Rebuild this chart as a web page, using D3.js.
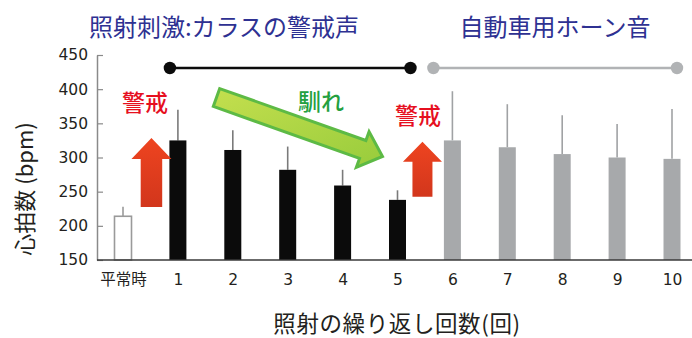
<!DOCTYPE html>
<html><head><meta charset="utf-8">
<script src="https://cdn.jsdelivr.net/npm/d3@7"></script>
<style>
html,body{margin:0;padding:0;background:#fff;}
svg{display:block;}
</style></head>
<body>
<svg id="chart" width="692" height="338"></svg>
<script>
// ---- data ----
const categories = ["平常時","1","2","3","4","5","6","7","8","9","10"];
const heartRate  = [214, 325, 311, 282, 259, 238, 325, 315, 305, 300, 298];
const errorSD    = [14, 45, 29, 34, 23, 14, 72, 63, 57, 49, 73];
const groups     = ["base","crow","crow","crow","crow","crow","horn","horn","horn","horn","horn"];
const yTicks     = [150, 200, 250, 300, 350, 400, 450];
const titleCrow  = "照射刺激:カラスの警戒声";
const titleHorn  = "自動車用ホーン音";
const yTitle     = "心拍数 (bpm)";
const xTitle     = "照射の繰り返し回数(回)";

const svg = d3.select("#chart");
const JP = "'Noto Sans CJK JP', 'Noto Sans', sans-serif";
const NUM = "'DejaVu Sans', 'Noto Sans', sans-serif";

const x = d3.scalePoint().domain(categories).range([123, 672]);
const y = d3.scaleLinear().domain([150, 450]).range([260, 55]);
const barW = 17;

const fillOf = {base:"#ffffff", crow:"#0b0b0b", horn:"#a7a9ab"};
const errOf  = {base:"#9a9a9a", crow:"#7a7a7a", horn:"#a0a2a4"};

const defs = svg.append("defs");
const rg = defs.append("linearGradient").attr("id","redg").attr("x1",0).attr("y1",0).attr("x2",0).attr("y2",1);
rg.append("stop").attr("offset","0%").attr("stop-color","#ee4420");
rg.append("stop").attr("offset","100%").attr("stop-color","#d2361c");
const gg = defs.append("linearGradient").attr("id","greeng").attr("x1",0).attr("y1",0).attr("x2",1).attr("y2",1);
gg.append("stop").attr("offset","0%").attr("stop-color","#c4df4e");
gg.append("stop").attr("offset","100%").attr("stop-color","#98cc3c");

// ---- titles ----
svg.append("text").attr("x", 224).attr("y", 25).attr("text-anchor","middle")
  .attr("dominant-baseline","central").style("font-family",JP).style("font-size","24px")
  .attr("fill","#2e3192").text(titleCrow);
svg.append("text").attr("x", 555).attr("y", 25).attr("text-anchor","middle")
  .attr("dominant-baseline","central").style("font-family",JP).style("font-size","24px")
  .attr("fill","#2e3192").text(titleHorn);

// ---- timeline markers ----
const lineY = 68;
function timeline(x1, x2, color){
  svg.append("line").attr("x1",x1).attr("x2",x2).attr("y1",lineY).attr("y2",lineY)
    .attr("stroke",color).attr("stroke-width",2.5);
  [x1,x2].forEach(cx => svg.append("circle").attr("cx",cx).attr("cy",lineY).attr("r",6.2).attr("fill",color));
}
timeline(x("1") - 8, x("5") + 13, "#0b0b0b");
timeline(x("6") - 19, x("10") + 5, "#b1b3b5");

// ---- axes ----
const yAxis = d3.axisLeft(y).tickValues(yTicks).tickSize(-6).tickSizeOuter(0).tickPadding(9);
const gy = svg.append("g").attr("transform","translate(97,0)").call(yAxis);
gy.select(".domain").attr("stroke","#8a8a8a").attr("stroke-width",1.5);
gy.selectAll(".tick line").attr("stroke","#8a8a8a").attr("stroke-width",1.2);
gy.selectAll(".tick text").style("font-family",NUM).style("font-size","15.5px").attr("fill","#231f20");

const xAxis = d3.axisBottom(x).tickSize(0).tickPadding(14);
const gx = svg.append("g").attr("transform","translate(0,260)").call(xAxis);
gx.select(".domain").remove();
gx.selectAll(".tick text").style("font-family",(d)=> d === "平常時" ? JP : NUM)
  .style("font-size","15.5px").attr("fill","#231f20");

// ---- error bars ----
svg.append("g").selectAll("line").data(categories).join("line")
  .attr("x1", d => x(d)).attr("x2", d => x(d))
  .attr("y1", (d,i) => y(heartRate[i])).attr("y2", (d,i) => y(heartRate[i] + errorSD[i]))
  .attr("stroke", (d,i) => errOf[groups[i]]).attr("stroke-width", 1.6);

// ---- bars ----
svg.append("g").selectAll("rect").data(categories).join("rect")
  .attr("x", d => x(d) - barW/2).attr("width", barW)
  .attr("y", (d,i) => y(heartRate[i])).attr("height", (d,i) => y(150) - y(heartRate[i]))
  .attr("fill", (d,i) => fillOf[groups[i]])
  .attr("stroke", (d,i) => groups[i] === "base" ? "#9a9a9a" : "none")
  .attr("stroke-width", 1.6);

// x baseline
svg.append("line").attr("x1",97).attr("x2",692).attr("y1",260).attr("y2",260)
  .attr("stroke","#3a3a3a").attr("stroke-width",1.5);

// ---- red "alarm" arrows ----
function upArrow(cx, tipV, botV, headW, shaftW, headH){
  const t = y(tipV), b = y(botV), hb = t + headH;
  const pts = [[cx,t],[cx+headW/2,hb],[cx+shaftW/2,hb],[cx+shaftW/2,b],[cx-shaftW/2,b],[cx-shaftW/2,hb],[cx-headW/2,hb]];
  svg.append("polygon").attr("points", pts.map(p=>p.join(",")).join(" ")).attr("fill","url(#redg)");
}
upArrow((x("平常時") + x("1"))/2 + 1, 328.5, 227.5, 40, 21.5, 21);
upArrow((x("5") + x("6"))/2 - 2.5, 323, 242.5, 39, 20, 20);

// ---- green "habituation" arrow ----
(function(){
  const S = [216.5, 97.5], T = [382.5, 156.5];
  const dx = T[0]-S[0], dy = T[1]-S[1], L = Math.hypot(dx,dy);
  const u = [dx/L, dy/L], n = [-u[1], u[0]];
  const sw = 9.5, hw = 19, hl = 21;
  const B = [T[0]-u[0]*hl, T[1]-u[1]*hl];
  const P = (p, k) => [p[0] + n[0]*k, p[1] + n[1]*k];
  const pts = [P(S,-sw), P(B,-sw), P(B,-hw), T, P(B,hw), P(B,sw), P(S,sw)];
  svg.append("polygon").attr("points", pts.map(p=>p.join(",")).join(" "))
    .attr("fill","url(#greeng)").attr("stroke","#5dba45").attr("stroke-width",3)
    .attr("stroke-linejoin","miter");
})();

// ---- annotation labels ----
function label(txt, cx, cy, color){
  svg.append("text").attr("x",cx).attr("y",cy).attr("text-anchor","middle")
    .attr("dominant-baseline","central").style("font-family",JP).style("font-size","23px")
    .style("font-weight",500).attr("fill",color).text(txt);
}
label("警戒", 145, 101, "#e60f1f");
label("警戒", 418, 114, "#e60f1f");
label("馴れ", 321, 100, "#23a040");

// ---- axis titles ----
svg.append("text").attr("transform","translate(23,189) rotate(-90)").attr("text-anchor","middle")
  .attr("dominant-baseline","central").style("font-family",JP).style("font-size","22px")
  .attr("fill","#231f20").text(yTitle);
svg.append("text").attr("x",397).attr("y",321.5).attr("text-anchor","middle")
  .attr("dominant-baseline","central").style("font-family",JP).style("font-size","22.5px")
  .attr("letter-spacing","0.6px")
  .attr("fill","#231f20").text(xTitle);
</script>
</body></html>
